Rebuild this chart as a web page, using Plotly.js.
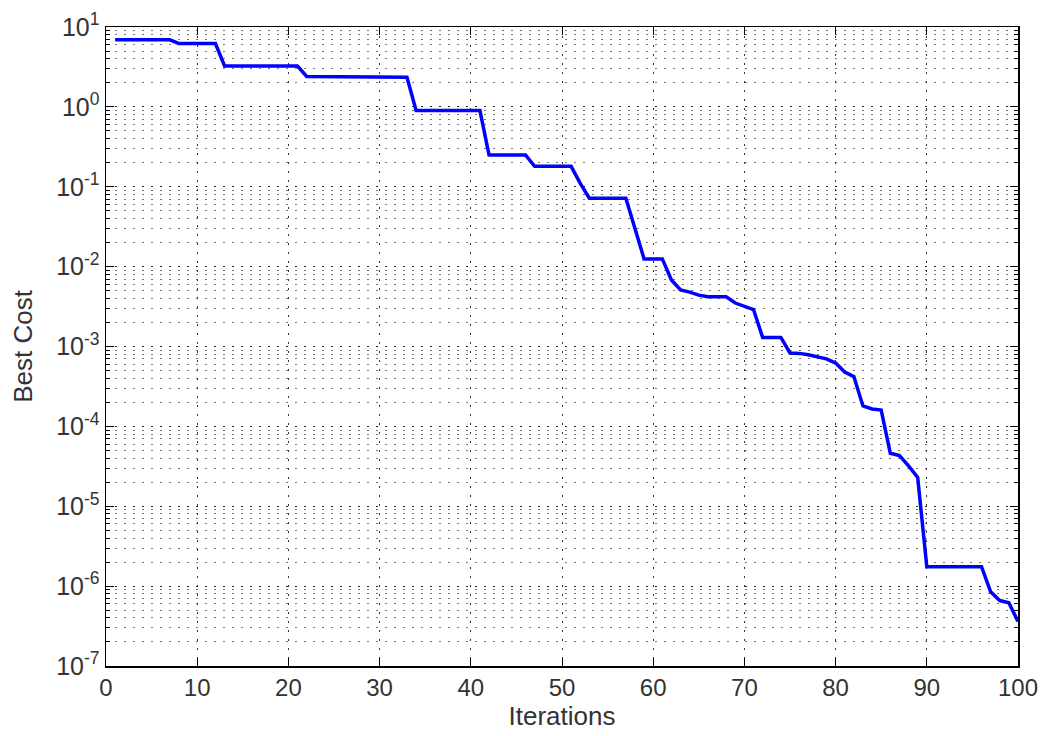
<!DOCTYPE html>
<html>
<head>
<meta charset="utf-8">
<script src="https://cdn.plot.ly/plotly-3.0.1.min.js"></script>
<style>html,body{margin:0;padding:0;background:#fff;}#chart{width:1047px;height:736px;}</style>
</head>
<body>
<div id="chart"></div>
<script>
var iterations = [];
for (var i = 1; i <= 100; i++) iterations.push(i);

var bestCost = [
  6.9, 6.9, 6.9, 6.9, 6.9, 6.9, 6.9, 6.2, 6.2, 6.2,
  6.2, 6.2, 3.25, 3.25, 3.25, 3.25, 3.25, 3.25, 3.25, 3.25,
  3.25, 2.4, 2.4, 2.4, 2.4, 2.4, 2.4, 2.4, 2.4, 2.4,
  2.4, 2.4, 2.35, 0.9, 0.9, 0.9, 0.9, 0.9, 0.9, 0.9,
  0.9, 0.25, 0.25, 0.25, 0.25, 0.25, 0.18, 0.18, 0.18, 0.18,
  0.18, 0.11, 0.072, 0.072, 0.072, 0.072, 0.072, 0.03, 0.0125, 0.0125,
  0.0125, 0.0068, 0.0051, 0.0048, 0.0044, 0.0042, 0.0042, 0.0042, 0.0035, 0.0032,
  0.0029, 0.0013, 0.0013, 0.0013, 0.00083, 0.00082, 0.00079, 0.00075, 0.0007, 0.00062,
  0.00048, 0.00042, 0.00018, 0.000165, 0.00016, 0.000046, 0.000043, 0.000032, 0.000023, 0.00000175,
  0.00000175, 0.00000175, 0.00000175, 0.00000175, 0.00000175, 0.00000175, 0.00000085, 0.00000066, 0.00000062, 0.00000036
];

var xTickVals = [0, 10, 20, 30, 40, 50, 60, 70, 80, 90, 100];
var yExponents = [-7, -6, -5, -4, -3, -2, -1, 0, 1];

var fam = 'Liberation Sans, Arial, sans-serif';

var trace = {
  x: iterations,
  y: bestCost,
  type: 'scatter',
  mode: 'lines',
  line: {color: '#0000ff', width: 3.5},
  hoverinfo: 'x+y'
};

var layout = {
  width: 1047,
  height: 736,
  margin: {l: 106, r: 29, t: 27, b: 70},
  paper_bgcolor: '#ffffff',
  plot_bgcolor: '#ffffff',
  showlegend: false,
  font: {family: fam, size: 24, color: '#222'},
  xaxis: {
    range: [0, 100],
    tickmode: 'array',
    tickvals: xTickVals,
    ticktext: xTickVals.map(String),
    ticks: 'inside',
    ticklen: 8,
    tickcolor: '#000',
    showline: true,
    linecolor: '#000',
    linewidth: 1.5,
    mirror: 'allticks',
    showgrid: true,
    gridcolor: '#333',
    griddash: '2px,7px',
    gridwidth: 1,
    zeroline: false,
    automargin: false,
    tickfont: {family: fam, size: 24, color: '#333'},
    title: {text: 'Iterations', font: {family: fam, size: 26, color: '#333'}, standoff: 4}
  },
  yaxis: {
    type: 'log',
    range: [-7, 1],
    tickmode: 'array',
    tickvals: yExponents.map(function (e) { return Math.pow(10, e); }),
    ticktext: yExponents.map(function (e) { return '10<sup>' + e + '</sup>'; }),
    ticks: 'inside',
    ticklen: 8,
    tickcolor: '#000',
    showline: true,
    linecolor: '#000',
    linewidth: 1.5,
    mirror: 'allticks',
    showgrid: true,
    gridcolor: '#222',
    griddash: '2px,7px',
    gridwidth: 1,
    zeroline: false,
    automargin: false,
    minor: {
      dtick: 'D1',
      ticks: 'inside',
      ticklen: 4,
      tickcolor: '#000',
      showgrid: true,
      gridcolor: '#777',
      griddash: '2px,7px',
      gridwidth: 1
    },
    tickfont: {family: fam, size: 25, color: '#333'},
    title: {text: 'Best Cost', font: {family: fam, size: 26, color: '#333'}, standoff: 16}
  }
};

Plotly.newPlot('chart', [trace], layout, {displayModeBar: false, staticPlot: true});
</script>
</body>
</html>
